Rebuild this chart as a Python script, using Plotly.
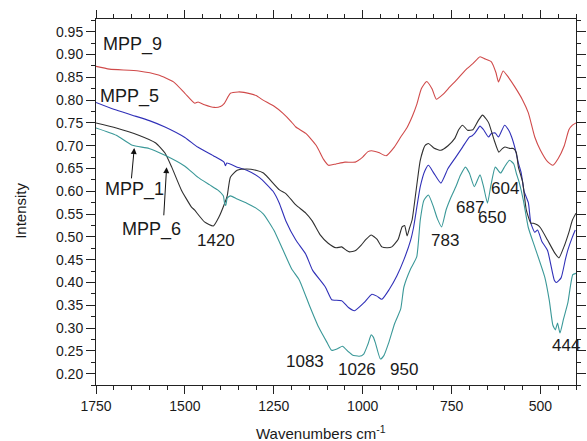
import plotly.graph_objects as go

# ---- data ----
wn9 = [1750, 1712, 1630, 1574, 1532, 1500, 1472, 1463, 1445, 1417, 1400, 1389, 1372, 1350, 1334, 1300, 1280, 1250,
       1224, 1200, 1188, 1160, 1130, 1110, 1096, 1075, 1050, 1021, 1000, 985, 975, 955, 934, 911, 893, 875, 860, 848,
       835, 820, 805, 793, 775, 755, 735, 711, 690, 670, 655, 638, 625, 618, 605, 590, 572, 550, 534, 516, 500, 480,
       465, 450, 433, 420, 410, 400]
mpp9 = [0.874, 0.868, 0.864, 0.855, 0.840, 0.815, 0.793, 0.796, 0.790, 0.784, 0.786, 0.793, 0.815, 0.818, 0.817, 0.810,
        0.800, 0.787, 0.771, 0.752, 0.741, 0.727, 0.700, 0.670, 0.657, 0.660, 0.664, 0.664, 0.675, 0.687, 0.689, 0.685,
        0.678, 0.697, 0.719, 0.740, 0.765, 0.790, 0.825, 0.841, 0.825, 0.802, 0.812, 0.829, 0.845, 0.866, 0.880, 0.895,
        0.890, 0.884, 0.860, 0.840, 0.864, 0.850, 0.829, 0.800, 0.772, 0.719, 0.690, 0.665, 0.657, 0.672, 0.700, 0.735,
        0.745, 0.750]

wn5 = [1750, 1700, 1648, 1600, 1556, 1500, 1464, 1420, 1390, 1386, 1382, 1350, 1326, 1290, 1252, 1235, 1216, 1188,
       1160, 1141, 1105, 1087, 1078, 1059, 1040, 1023, 997, 974, 960, 946, 925, 904, 884, 865, 857, 838, 825, 815,
       800, 780, 760, 738, 719, 700, 692, 685, 670, 660, 646, 638, 627, 618, 601, 590, 581, 570, 562, 554, 546, 534,
       527, 516, 508, 496, 480, 461, 455, 442, 430, 423, 410, 402]
mpp5 = [0.795, 0.780, 0.767, 0.755, 0.741, 0.718, 0.697, 0.678, 0.664, 0.656, 0.662, 0.652, 0.646, 0.630, 0.600, 0.575,
        0.535, 0.493, 0.462, 0.427, 0.390, 0.362, 0.361, 0.360, 0.345, 0.338, 0.355, 0.374, 0.370, 0.363, 0.385, 0.414,
        0.450, 0.493, 0.520, 0.610, 0.645, 0.657, 0.640, 0.618, 0.650, 0.675, 0.697, 0.719, 0.722, 0.727, 0.743, 0.735,
        0.719, 0.727, 0.728, 0.719, 0.745, 0.735, 0.719, 0.690, 0.662, 0.640, 0.600, 0.575, 0.530, 0.510, 0.515, 0.490,
        0.470, 0.405, 0.400, 0.410, 0.450, 0.471, 0.500, 0.515]

wn1 = [1750, 1693, 1630, 1582, 1556, 1537, 1510, 1482, 1473, 1445, 1420, 1404, 1390, 1381, 1372, 1353, 1326, 1300,
       1279, 1234, 1216, 1188, 1160, 1142, 1120, 1097, 1075, 1059, 1045, 1037, 1020, 1004, 990, 976, 960, 946, 930,
       918, 900, 889, 882, 875, 868, 861, 850, 838, 825, 815, 800, 780, 760, 741, 730, 719, 705, 690, 675, 663, 652,
       645, 630, 617, 608, 600, 585, 576, 568, 562, 550, 540, 527, 520, 508, 500, 480, 460, 448, 434, 420, 410, 400]
mpp1 = [0.750, 0.739, 0.723, 0.706, 0.684, 0.653, 0.603, 0.566, 0.559, 0.533, 0.524, 0.544, 0.570, 0.590, 0.631, 0.646,
        0.649, 0.646, 0.640, 0.603, 0.595, 0.570, 0.552, 0.535, 0.505, 0.486, 0.476, 0.478, 0.470, 0.467, 0.470, 0.482,
        0.495, 0.504, 0.495, 0.478, 0.476, 0.478, 0.495, 0.522, 0.525, 0.502, 0.520, 0.537, 0.600, 0.668, 0.700, 0.705,
        0.695, 0.690, 0.700, 0.716, 0.735, 0.745, 0.734, 0.735, 0.755, 0.767, 0.758, 0.749, 0.712, 0.686, 0.693, 0.697,
        0.694, 0.694, 0.685, 0.653, 0.620, 0.560, 0.530, 0.530, 0.526, 0.520, 0.493, 0.465, 0.454, 0.478, 0.510, 0.537,
        0.552]

wn6 = [1750, 1693, 1648, 1601, 1556, 1500, 1464, 1430, 1408, 1392, 1388, 1385, 1381, 1372, 1353, 1326, 1300, 1279,
       1250, 1224, 1200, 1178, 1150, 1124, 1100, 1087, 1070, 1057, 1040, 1029, 1010, 997, 985, 976, 970, 964, 950, 940,
       927, 910, 893, 884, 865, 848, 838, 828, 815, 801, 790, 778, 765, 751, 738, 725, 711, 700, 686, 670, 660, 649,
       640, 627, 612, 600, 587, 575, 568, 560, 548, 534, 516, 488, 475, 465, 458, 452, 445, 435, 423, 409, 400]
mpp6 = [0.739, 0.723, 0.701, 0.694, 0.679, 0.655, 0.631, 0.614, 0.603, 0.590, 0.572, 0.569, 0.585, 0.590, 0.583, 0.574,
        0.563, 0.550, 0.515, 0.471, 0.430, 0.405, 0.350, 0.302, 0.268, 0.251, 0.255, 0.260, 0.248, 0.241, 0.238, 0.243,
        0.265, 0.285, 0.280, 0.267, 0.232, 0.240, 0.267, 0.310, 0.342, 0.390, 0.430, 0.456, 0.537, 0.580, 0.592, 0.566,
        0.540, 0.522, 0.560, 0.588, 0.610, 0.635, 0.653, 0.640, 0.610, 0.636, 0.610, 0.574, 0.610, 0.653, 0.640, 0.655,
        0.668, 0.660, 0.640, 0.620, 0.580, 0.520, 0.478, 0.412, 0.360, 0.306, 0.296, 0.311, 0.289, 0.320, 0.355, 0.417,
        0.420]

series_names = ["MPP_9", "MPP_5", "MPP_1", "MPP_6"]
peak_labels = ["1420", "1083", "1026", "950", "783", "687", "650", "604", "444"]
x_ticks = [1750, 1500, 1250, 1000, 750, 500]
y_ticks = [0.20, 0.25, 0.30, 0.35, 0.40, 0.45, 0.50, 0.55, 0.60, 0.65, 0.70, 0.75, 0.80, 0.85, 0.90, 0.95]

colors = ["#d04a4a", "#3030b8", "#303030", "#3a9898"]
series = [(wn9, mpp9), (wn5, mpp5), (wn1, mpp1), (wn6, mpp6)]

fig = go.Figure()
for (wx, wy), name, c in zip(series, series_names, colors):
    fig.add_trace(go.Scatter(x=wx, y=wy, mode="lines", name=name,
                             line=dict(color=c, width=1.1, shape="spline", smoothing=0.5)))

FONT = "Liberation Sans, Arial, sans-serif"
TXT = "#1a1a1a"

# series labels (positions in data coordinates)
name_pos = [(1648, 0.921), (1656, 0.807), (1642, 0.603), (1595, 0.517)]
for n, (px, py) in zip(series_names, name_pos):
    fig.add_annotation(x=px, y=py, text=n, showarrow=False, xanchor="center", yanchor="middle",
                       font=dict(family=FONT, size=18, color=TXT))

peak_pos = [(1413, 0.493), (1162, 0.226), (1016, 0.210), (884, 0.208), (768, 0.493),
            (699, 0.565), (635, 0.543), (600, 0.607), (428, 0.261)]
for t, (px, py) in zip(peak_labels, peak_pos):
    fig.add_annotation(x=px, y=py, text=t, showarrow=False, xanchor="center", yanchor="middle",
                       font=dict(family=FONT, size=17, color=TXT))

# arrows
for (tx, ty, axx, ayy) in [(1642.4, 0.695, 1650.7, 0.625), (1551.4, 0.653, 1559.6, 0.544)]:
    fig.add_annotation(x=tx, y=ty, ax=axx, ay=ayy, xref="x", yref="y", axref="x", ayref="y",
                       text="", showarrow=True, arrowhead=2, arrowsize=1.2, arrowwidth=1,
                       arrowcolor="#111111", standoff=0)

# axis titles
fig.add_annotation(xref="paper", yref="paper", x=0.469, y=-0.131, showarrow=False,
                   xanchor="center", yanchor="middle",
                   text="Wavenumbers cm<sup>-1</sup>", font=dict(family=FONT, size=15, color=TXT))
fig.add_annotation(xref="paper", yref="paper", x=-0.159, y=0.475, showarrow=False, textangle=-90,
                   xanchor="center", yanchor="middle",
                   text="Intensity", font=dict(family=FONT, size=15, color=TXT))

axis_common = dict(showgrid=False, zeroline=False, showline=True, linecolor="#222222", linewidth=1,
                   mirror="ticks", ticks="outside", tickcolor="#222222", tickwidth=1,
                   tickfont=dict(family=FONT, size=14, color=TXT))

fig.update_xaxes(range=[1750, 400], tickvals=x_ticks, ticklen=8,
                 minor=dict(dtick=50, ticks="outside", ticklen=4, tickcolor="#222222", showgrid=False),
                 **axis_common)
fig.update_yaxes(range=[0.175, 0.978], tickvals=y_ticks, tickformat=".2f", ticklen=9,
                 minor=dict(dtick=0.025, tick0=0.175, ticks="outside", ticklen=4, tickcolor="#222222", showgrid=False),
                 **axis_common)

fig.update_layout(width=587, height=441, margin=dict(l=96, r=1, t=19, b=56),
                  paper_bgcolor="white", plot_bgcolor="white", showlegend=False)

fig.write_html("out.html", config={"displayModeBar": False},
               post_script="document.body.style.margin='0';document.body.style.overflow='hidden';")
